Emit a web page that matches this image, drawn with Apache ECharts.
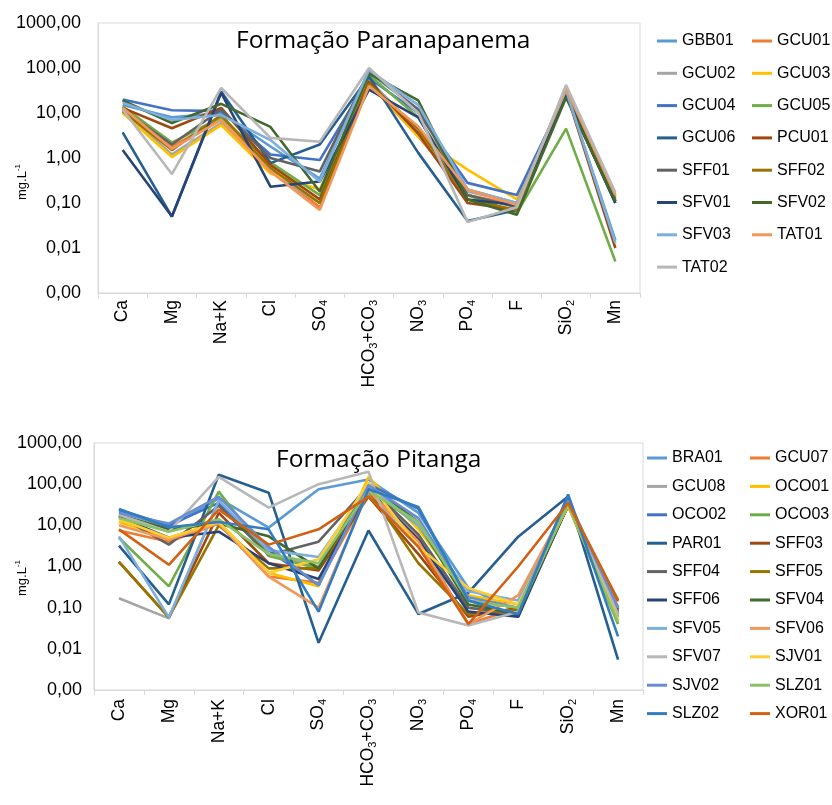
<!DOCTYPE html>
<html>
<head>
<meta charset="utf-8">
<script src="https://cdn.jsdelivr.net/npm/echarts@6/dist/echarts.min.js"></script>
<style>html,body{margin:0;padding:0;background:#fff}#c{width:832px;height:805px}</style>
</head>
<body>
<div id="c"></div>
<script>
// ---------- DATA ----------
const categories = ['Ca','Mg','Na+K','Cl','SO4','HCO3+CO3','NO3','PO4','F','SiO2','Mn'];
const yTicks = [0.001, 0.01, 0.1, 1, 10, 100, 1000];

// Formação Paranapanema
const paraNames = ['GBB01','GCU01','GCU02','GCU03','GCU04','GCU05','GCU06','PCU01','SFF01','SFF02','SFV01','SFV02','SFV03','TAT01','TAT02'];
const paraColors = ['#5B9BD5','#ED7D31','#A5A5A5','#FFC000','#4472C4','#70AD47','#255E91','#9E480E','#636363','#997300','#264478','#43682B','#7CAFDD','#F1975A','#B7B7B7'];
const para_GBB01 = [15, 8, 10, 1.8, 0.35, 80, 12, 0.2, 0.1, 30, 0.015];
const para_GCU01 = [12, 1.8, 7, 0.6, 0.08, 45, 3, 0.15, 0.09, 28, 0.13];
const para_GCU02 = [11, 1.2, 6, 0.5, 0.1, 55, 4, 0.18, 0.1, 35, 0.14];
const para_GCU03 = [10, 1.05, 5.4, 0.45, 0.2, 50, 3, 0.55, 0.12, 30, 0.15];
const para_GCU04 = [20, 11.5, 11, 1.2, 0.9, 60, 10, 0.28, 0.15, 28, 0.11];
const para_GCU05 = [14, 2.2, 8, 0.8, 0.15, 70, 8, 0.15, 0.06, 4.5, 0.005];
const para_GCU06 = [3.7, 0.05, 30, 0.77, 2.0, 65, 1.3, 0.04, 0.07, 25, 0.1];
const para_PCU01 = [13, 4.6, 13, 0.7, 0.12, 50, 3.5, 0.1, 0.07, 30, 0.01];
const para_SFF01 = [12, 2.0, 12, 1.0, 0.5, 85, 12, 0.15, 0.08, 30, 0.11];
const para_SFF02 = [11, 1.5, 9, 0.6, 0.1, 45, 4.5, 0.12, 0.07, 28, 0.12];
const para_SFV01 = [1.5, 0.05, 28, 0.23, 0.3, 33, 8, 0.12, 0.09, 25, 0.1];
const para_SFV02 = [19, 6, 16, 4.9, 0.18, 75, 19, 0.12, 0.055, 22, 0.11];
const para_SFV03 = [17, 7, 9, 2.5, 0.3, 90, 15, 0.2, 0.1, 32, 0.013];
const para_TAT01 = [13, 1.6, 7, 0.5, 0.07, 40, 5, 0.2, 0.09, 35, 0.15];
const para_TAT02 = [12, 0.44, 36, 2.8, 2.3, 100, 10, 0.038, 0.08, 42, 0.17];
const paraValues = [para_GBB01, para_GCU01, para_GCU02, para_GCU03, para_GCU04, para_GCU05, para_GCU06, para_PCU01, para_SFF01, para_SFF02, para_SFV01, para_SFV02, para_SFV03, para_TAT01, para_TAT02];

// Formação Pitanga
const pitNames = ['BRA01','GCU07','GCU08','OCO01','OCO02','OCO03','PAR01','SFF03','SFF04','SFF05','SFF06','SFV04','SFV05','SFV06','SFV07','SJV01','SJV02','SLZ01','SLZ02','XOR01'];
const pitColors = ['#5B9BD5','#ED7D31','#A5A5A5','#FFC000','#4472C4','#70AD47','#255E91','#9E480E','#636363','#997300','#264478','#43682B','#7CAFDD','#F1975A','#B7B7B7','#FFCD33','#698ED0','#8CC168','#327DC2','#D26012'];
const pit_BRA01 = [22, 9, 45, 8.8, 75, 130, 20, 0.3, 0.08, 45, 0.08];
const pit_GCU07 = [7.5, 4, 11, 0.57, 0.4, 60, 5, 0.04, 0.1, 35, 0.14];
const pit_GCU08 = [0.17, 0.055, 40, 2, 1, 60, 3, 0.1, 0.07, 30, 0.05];
const pit_OCO01 = [12, 5, 12, 0.7, 0.33, 150, 8, 0.2, 0.12, 30, 0.04];
const pit_OCO02 = [24, 10, 35, 2.5, 0.35, 100, 25, 0.15, 0.06, 40, 0.06];
const pit_OCO03 = [5, 0.33, 66, 1.8, 0.9, 80, 10, 0.15, 0.1, 30, 0.04];
const pit_PAR01 = [3.2, 0.12, 170, 62, 0.014, 7.5, 0.07, 0.23, 5.3, 50, 0.0055];
const pit_SFF03 = [1.3, 0.058, 20, 1.2, 0.8, 50, 2, 0.06, 0.1, 30, 0.15];
const pit_SFF04 = [17, 3.4, 30, 1.9, 4, 90, 6, 0.1, 0.07, 35, 0.1];
const pit_SFF05 = [1.3, 0.058, 10, 0.9, 0.9, 70, 1.2, 0.07, 0.09, 30, 0.08];
const pit_SFF06 = [16, 5, 7, 1.2, 0.5, 80, 4.5, 0.08, 0.06, 32, 0.07];
const pit_SFV04 = [18, 8, 11, 5.4, 0.9, 100, 12, 0.12, 0.07, 30, 0.09];
const pit_SFV05 = [5.4, 0.058, 40, 2.5, 1.7, 90, 10, 0.25, 0.15, 40, 0.06];
const pit_SFV06 = [10, 4.5, 11, 0.57, 0.1, 70, 4, 0.04, 0.2, 35, 0.1];
const pit_SFV07 = [18, 7, 150, 27, 100, 200, 0.076, 0.037, 0.08, 35, 0.07];
const pit_SJV01 = [14, 5, 12, 0.7, 1.5, 110, 3, 0.3, 0.12, 30, 0.05];
const pit_SJV02 = [20, 11, 50, 3, 0.35, 95, 15, 0.18, 0.1, 40, 0.1];
const pit_SLZ01 = [15, 7, 14, 2, 1.2, 70, 12, 0.15, 0.1, 32, 0.044];
const pit_SLZ02 = [25, 9, 12, 8, 0.08, 75, 28, 0.15, 0.07, 56, 0.02];
const pit_XOR01 = [8, 1.1, 24, 3.4, 8, 50, 3, 0.04, 1.0, 35, 0.15];
const pitValues = [pit_BRA01, pit_GCU07, pit_GCU08, pit_OCO01, pit_OCO02, pit_OCO03, pit_PAR01, pit_SFF03, pit_SFF04, pit_SFF05, pit_SFF06, pit_SFV04, pit_SFV05, pit_SFV06, pit_SFV07, pit_SJV01, pit_SJV02, pit_SLZ01, pit_SLZ02, pit_XOR01];

// ---------- CHART ----------
const FONT = '"Liberation Sans", Arial, sans-serif';
const chart = echarts.init(document.getElementById('c'), null, {renderer: 'canvas'});

function catLabel(v) {
  return v.replace(/(\d)/g, '{s|$1}');
}
const catRich = { s: { fontSize: 11, fontFamily: FONT, color: '#000', verticalAlign: 'bottom', padding: [9, 0, 0, 0] } };

function yFmt(v) { return Number(v).toFixed(2).replace('.', ','); }

function xAxisCfg(gi, margin) {
  return {
    type: 'category', gridIndex: gi, data: categories, boundaryGap: true,
    axisLine: { show: true, lineStyle: { color: '#D9D9D9', width: 1 } },
    axisTick: { show: true, length: 5, lineStyle: { color: '#D9D9D9' } },
    axisLabel: { rotate: 90, margin: margin, color: '#000', fontSize: 17.5, fontFamily: FONT, formatter: catLabel, rich: catRich },
    splitLine: { show: false }
  };
}
function yAxisCfg(gi, margin) {
  return {
    type: 'log', logBase: 10, gridIndex: gi, min: 0.001, max: 1000, interval: 1,
    axisLine: { show: true, lineStyle: { color: '#D9D9D9' } },
    axisTick: { show: false },
    splitLine: { show: false },
    axisLabel: { margin: margin, color: '#000', fontSize: 18, fontFamily: FONT, formatter: yFmt }
  };
}

const series = [];
paraNames.forEach((n, i) => series.push({
  name: n, type: 'line', xAxisIndex: 0, yAxisIndex: 0, data: paraValues[i],
  showSymbol: false, symbol: 'none', lineStyle: { width: 2.6, color: paraColors[i] }, itemStyle: { color: paraColors[i] },
  emphasis: { disabled: true }, animation: false
}));
pitNames.forEach((n, i) => series.push({
  name: n, type: 'line', xAxisIndex: 1, yAxisIndex: 1, data: pitValues[i],
  showSymbol: false, symbol: 'none', lineStyle: { width: 2.6, color: pitColors[i] }, itemStyle: { color: pitColors[i] },
  emphasis: { disabled: true }, animation: false
}));

function legendCol(names, left, top, gap) {
  return {
    data: names, orient: 'vertical', left: left, top: top, itemGap: gap, padding: 0,
    icon: 'rect', itemWidth: 20, itemHeight: 3,
    textStyle: { fontSize: 16, fontFamily: FONT, color: '#000', lineHeight: 20 },
    selectedMode: false
  };
}
const ev = a => a.filter((_, i) => i % 2 === 0);
const od = a => a.filter((_, i) => i % 2 === 1);

const supRich = { b: { fontSize: 13, fontFamily: FONT, color: '#000', lineHeight: 16 }, p: { fontSize: 8, fontFamily: FONT, color: '#000', verticalAlign: 'top', lineHeight: 16 } };

chart.setOption({
  backgroundColor: '#fff',
  animation: false,
  title: [
    { text: 'Formação Paranapanema', left: 231, top: 24, textStyle: { fontFamily: '"Open Sans", sans-serif', fontSize: 24.5, fontWeight: 'normal', color: '#000' } },
    { text: 'Formação Pitanga', left: 271, top: 443, textStyle: { fontFamily: '"Open Sans", sans-serif', fontSize: 24.5, fontWeight: 'normal', color: '#000' } }
  ],
  grid: [
    { left: 98, top: 23, width: 542, height: 270, show: true, borderColor: '#D9D9D9', borderWidth: 1, containLabel: false },
    { left: 94, top: 443, width: 549, height: 247, show: true, borderColor: '#D9D9D9', borderWidth: 1, containLabel: false }
  ],
  xAxis: [xAxisCfg(0, 7), xAxisCfg(1, 9)],
  yAxis: [yAxisCfg(0, 17), yAxisCfg(1, 12)],
  legend: [
    legendCol(ev(paraNames), 657, 31, 12.3),
    legendCol(od(paraNames), 752, 31, 12.3),
    legendCol(ev(pitNames), 647, 448, 8.4),
    legendCol(od(pitNames), 750, 448, 8.4)
  ],
  graphic: [
    { type: 'text', x: 22, y: 182, rotation: Math.PI / 2, style: { text: '{b|mg.L}{p|-1}', rich: supRich, align: 'center', verticalAlign: 'middle' } },
    { type: 'text', x: 22, y: 578, rotation: Math.PI / 2, style: { text: '{b|mg.L}{p|-1}', rich: supRich, align: 'center', verticalAlign: 'middle' } }
  ],
  series: series
});
</script>
</body>
</html>
